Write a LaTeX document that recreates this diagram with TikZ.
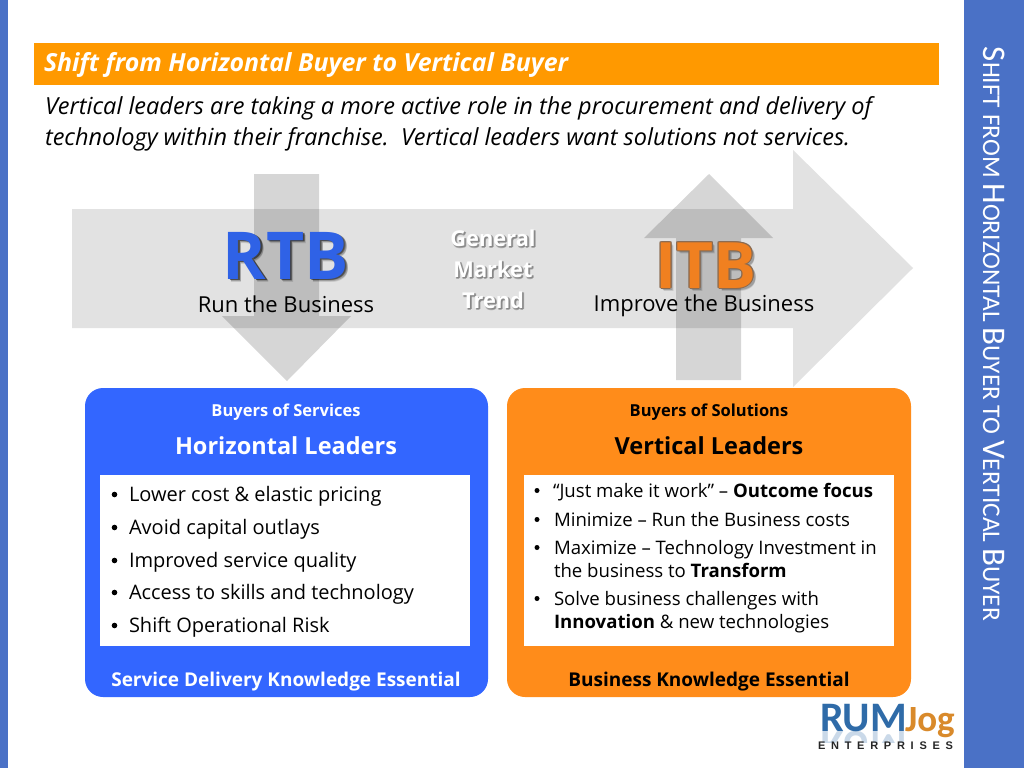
\documentclass[tikz,border=0pt]{standalone}
\usepackage{fontspec}
\setmainfont{Open Sans}
\newfontfamily\carl{Carlito}
\newfontfamily\arl{Liberation Sans}
\definecolor{sidebar}{HTML}{4A71C6}
\definecolor{titleor}{HTML}{FF9900}
\definecolor{bluebox}{HTML}{3366FF}
\definecolor{orbox}{HTML}{FF8C1A}
\definecolor{rtbblue}{HTML}{2F62E6}
\definecolor{itbor}{HTML}{F08020}
\definecolor{itbedge}{HTML}{8A6A50}
\definecolor{logoblue}{HTML}{2F6BA8}
\definecolor{logoor}{HTML}{D98A2B}
\newcommand{\fs}[1]{\fontsize{#1}{#1}\selectfont}
\newcommand{\capsm}[2]{{\fs{33}#1}{\fs{25.4}#2}}
\tikzset{
  x=1pt,y=-1pt,
  every node/.style={inner sep=0pt,outer sep=0pt},
  band/.style={fill=black!11.5,draw=none},
  overarrow/.style={fill=black,fill opacity=0.16,draw=none},
  panel/.style={fill=#1,draw=none,rounded corners=18pt},
  whitebox/.style={fill=white,draw=none},
  itemA/.style={anchor=base west,font=\fs{20},text=black},
  itemB/.style={anchor=base west,font=\fs{18.6},text=black},
  bulletmark/.style={fill=black,draw=none},
  headtxt/.style={anchor=base,font=\bfseries\fs{16.5},text=#1},
  bigtxt/.style={anchor=base,font=\bfseries\fs{23.5},text=#1},
  foottxt/.style={anchor=base,font=\bfseries\fs{19},text=#1},
  trend/.style={anchor=base,font=\bfseries\fs{21.8},text=#1},
  huge/.style={anchor=base,font=\bfseries\fs{66}},
  hugei/.style={anchor=base,font=\bfseries\fs{64}},
}
\begin{document}
\begin{tikzpicture}
\useasboundingbox (0,0) rectangle (1024,768);
\fill[white] (0,0) rectangle (1024,768);
\fill[sidebar] (0,0) rectangle (8,768);
\fill[sidebar] (964,0) rectangle (1024,768);
\fill[titleor] (34,43) rectangle (939,85);
\node[anchor=base west,text=white,font=\bfseries\itshape\fs{24.9}] (title) at (44,71) {Shift from Horizontal Buyer to Vertical Buyer};
\node[anchor=base west,font=\itshape\fs{23.5}] (lineone) at (45,114) {Vertical leaders are taking a more active role in the procurement and delivery of};
\node[anchor=base west,font=\itshape\fs{23.5}] (linetwo) at (45,145) {technology within their franchise.\ \ Vertical leaders want solutions not services.};
% sidebar text
\node[anchor=base,rotate=-90,text=white,font=\carl\fs{25.4}] (side) at (983,334) {\capsm{S}{HIFT} \capsm{}{FROM} \capsm{H}{ORIZONTAL} \capsm{B}{UYER} \capsm{}{TO} \capsm{V}{ERTICAL} \capsm{B}{UYER}};
% arrows
\fill[band] (72,209) -- (793,209) -- (793,150) -- (913,268) -- (793,387) -- (793,328) -- (72,328) -- cycle;
\fill[overarrow] (254,174) -- (319,174) -- (319,316) -- (351,316) -- (287,381) -- (222,316) -- (254,316) -- cycle;
\fill[overarrow] (676,380) -- (741,380) -- (741,238) -- (773,238) -- (709,174) -- (644,238) -- (676,238) -- cycle;
% RTB
\foreach \d/\o in {3/.12,2.4/.2,1.8/.3,1.2/.3}{
  \node[huge,text=black,opacity=\o] at (286+\d,279+\d) {RTB};
}
\node[huge,text=rtbblue] (rtb) at (286,279) {RTB};
\node[anchor=base,font=\fs{22}] (rtbsub) at (286,312) {Run the Business};
% ITB
\foreach \d/\o in {3/.12,2.4/.2}{
  \node[hugei,text=black,opacity=\o] at (706+\d,288+\d) {ITB};
}
\foreach \a/\b in {-1/0,1/0,0/-1,0/1,-.8/-.8,.8/-.8,-.8/.8,.8/.8}{
  \node[hugei,text=itbedge] at (706+\a,288+\b) {ITB};
}
\node[hugei,text=itbor] (itb) at (706,288) {ITB};
\node[anchor=base,font=\fs{22}] (itbsub) at (704,311) {Improve the Business};
% trend
\foreach \t/\yy in {General/246,Market/277,Trend/308}{
  \foreach \a/\b in {1.5/1.5,1/1,2/1,1/2}{
    \node[trend=black!48,opacity=.6] at (493+\a,\yy+\b) {\t};
  }
  \node[trend=white] at (493,\yy) {\t};
}
% panels
\fill[panel=bluebox] (85,388) rectangle (488,697);
\fill[panel=orbox] (507,388) rectangle (911,697);
\fill[whitebox] (100,475) rectangle (470,646);
\fill[whitebox] (524,475) rectangle (894,646);
\node[headtxt=white] (hb) at (286,416) {Buyers of Services};
\node[bigtxt=white] (hl) at (286,454) {Horizontal Leaders};
\node[headtxt=black] (vb) at (709,416) {Buyers of Solutions};
\node[bigtxt=black] (vl) at (709,454) {Vertical Leaders};
\node[foottxt=white] (hf) at (286,686) {Service Delivery Knowledge Essential};
\node[foottxt=black] (vf) at (709,686) {Business Knowledge Essential};
% left list
\foreach \t/\yy in {Lower cost \& elastic pricing/501,Avoid capital outlays/534,Improved service quality/567,Access to skills and technology/599,Shift Operational Risk/632}{
  \fill[bulletmark] (114.5,\yy-6.5) circle (2.8);
  \node[itemA] at (129,\yy) {\t};
}
% right list
\foreach \yy in {497,526,554,605}{
  \fill[bulletmark] (537,\yy-6.5) circle (2.5);
}
\node[itemB] (ia) at (553,497) {“Just make it work” – \textbf{Outcome focus}};
\node[itemB] (ib) at (554,526) {Minimize – Run the Business costs};
\node[itemB] (ic) at (554,554) {Maximize – Technology Investment in};
\node[itemB] (id) at (554,577) {the business to \textbf{Transform}};
\node[itemB] (ie) at (554,605) {Solve business challenges with};
\node[itemB] (if) at (554,628) {\textbf{Innovation} \& new technologies};
% logo
\node[anchor=base west,font=\carl\bfseries\fs{42},text=logoblue] (rum) at (820,731) {RUM};
\begin{scope}
\clip (815,731) rectangle (960,742);
\node[anchor=base west,font=\carl\bfseries\fs{42},text=logoblue,opacity=.25,yscale=-1] (rumr) at (820,731) {RUM};
\end{scope}
\node[anchor=base west,font=\carl\bfseries\fs{37},text=logoor] (jog) at (905,731) {Jog};
\node[anchor=base west,font=\arl\bfseries\fs{11},text=black!85] (ent) at (818,749) {\makebox[135pt][s]{E\hfil N\hfil T\hfil E\hfil R\hfil P\hfil R\hfil I\hfil S\hfil E\hfil S}};
\end{tikzpicture}
\end{document}
